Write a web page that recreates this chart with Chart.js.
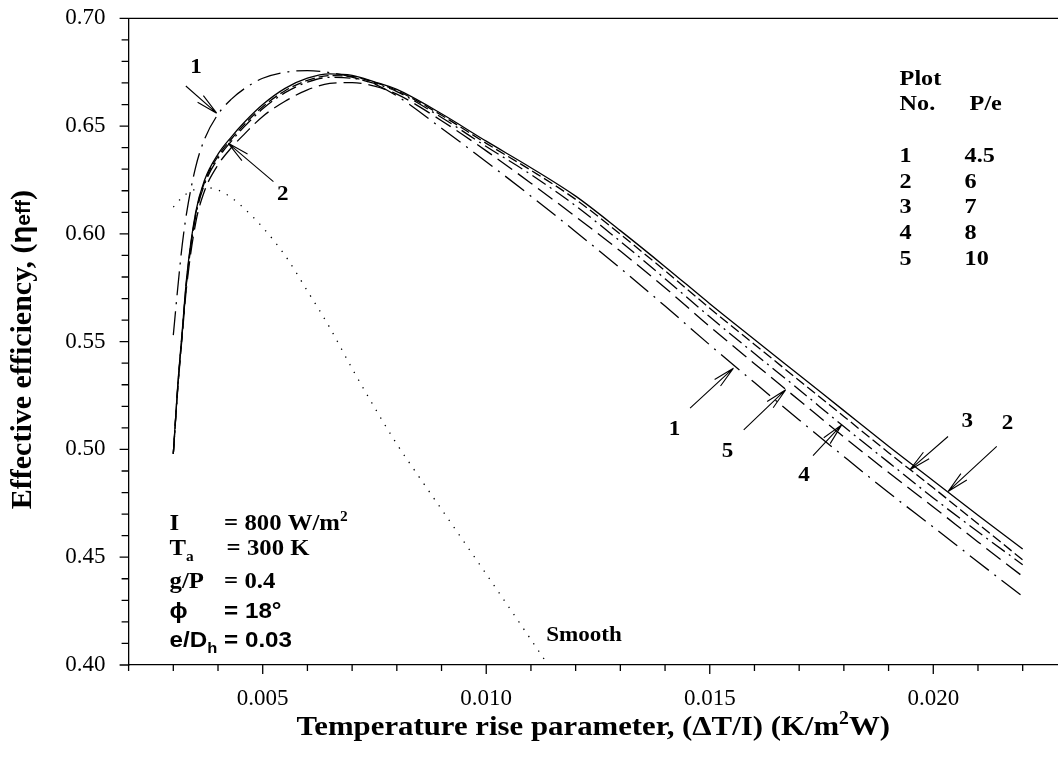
<!DOCTYPE html>
<html>
<head>
<meta charset="utf-8">
<script src="https://cdn.jsdelivr.net/npm/chart.js@4.4.1/dist/chart.umd.min.js"></script>
<style>
  html, body { margin: 0; padding: 0; background: #fff; }
  canvas { display: block; }
</style>
</head>
<body>
<canvas id="chart" width="1058" height="762"></canvas>
<script>
// Temperature rise parameter ΔT/I (K·m²/W) for the roughened-duct curves
const xRough = [0.0030, 0.0031, 0.0032, 0.0033, 0.0035, 0.0037, 0.0040, 0.0043, 0.0046, 0.0050,
                0.0055, 0.0060, 0.0065, 0.0070, 0.0075, 0.0080, 0.0090, 0.0100, 0.0110, 0.0120,
                0.0130, 0.0140, 0.0150, 0.0160, 0.0170, 0.0180, 0.0190, 0.0200, 0.0210, 0.0220];

// Effective efficiency for each relative roughness pitch P/e
const effPe45 = [0.553, 0.575, 0.595, 0.610, 0.631, 0.644, 0.6555, 0.6625, 0.6675, 0.6722,
                 0.6750, 0.6757, 0.6748, 0.6727, 0.6695, 0.6640, 0.6490, 0.6335, 0.6175, 0.6010,
                 0.5840, 0.5665, 0.5485, 0.5310, 0.5137, 0.4967, 0.4800, 0.4640, 0.4478, 0.4318];
const effPe6  = [0.498, 0.530, 0.555, 0.580, 0.610, 0.625, 0.637, 0.645, 0.652, 0.660,
                 0.6675, 0.6722, 0.6742, 0.6735, 0.6705, 0.6670, 0.6557, 0.6430, 0.6307, 0.6175,
                 0.6015, 0.5848, 0.5676, 0.5510, 0.5345, 0.5180, 0.5015, 0.4855, 0.4695, 0.4538];
const effPe7  = [0.498, 0.529, 0.554, 0.579, 0.609, 0.624, 0.636, 0.644, 0.651, 0.659,
                 0.6664, 0.6712, 0.6734, 0.6730, 0.6703, 0.6665, 0.6550, 0.6420, 0.6295, 0.6160,
                 0.5998, 0.5829, 0.5655, 0.5487, 0.5320, 0.5153, 0.4985, 0.4822, 0.4655, 0.4488];
const effPe8  = [0.498, 0.529, 0.554, 0.578, 0.608, 0.623, 0.635, 0.643, 0.650, 0.658,
                 0.6655, 0.6704, 0.6726, 0.6722, 0.6698, 0.6660, 0.6540, 0.6405, 0.6275, 0.6130,
                 0.5965, 0.5792, 0.5615, 0.5445, 0.5277, 0.5106, 0.4940, 0.4775, 0.4618, 0.4465];
const effPe10 = [0.498, 0.528, 0.553, 0.576, 0.605, 0.620, 0.632, 0.640, 0.6465, 0.6545,
                 0.6615, 0.6668, 0.6698, 0.6702, 0.6685, 0.6648, 0.6525, 0.6385, 0.6235, 0.6080,
                 0.5920, 0.5750, 0.5570, 0.5398, 0.5228, 0.5058, 0.4893, 0.4733, 0.4571, 0.4411];

// Smooth duct
const xSmooth   = [0.0030, 0.0032, 0.0034, 0.0036, 0.0038, 0.0040, 0.0043, 0.0046, 0.0050, 0.0055, 0.0060,
                   0.0065, 0.0070, 0.0075, 0.0080, 0.0085, 0.0090, 0.0095, 0.0100, 0.0105, 0.0110, 0.0115];
const effSmooth = [0.6124, 0.6170, 0.6198, 0.6212, 0.6213, 0.6203, 0.6168, 0.6115, 0.6030, 0.5900, 0.5735,
                   0.5565, 0.5375, 0.5195, 0.5025, 0.4872, 0.4722, 0.4572, 0.4422, 0.4270, 0.4118, 0.3965];

// Axis ticks
const xMajorTicks = [0.005, 0.010, 0.015, 0.020];
const yMajorTicks = [0.40, 0.45, 0.50, 0.55, 0.60, 0.65, 0.70];

// Legend table
const plotNumbers = ['1', '2', '3', '4', '5'];
const pitchRatios = ['4.5', '6', '7', '8', '10'];

// Curve labels with arrows: [ΔT/I, η] for label, arrow tail and arrow tip
const arrowNotes = [
  { n: '1', at: [0.00351, 0.6779], from: [0.00328, 0.6686], to: [0.00397, 0.6560] },
  { n: '2', at: [0.00545, 0.6190], from: [0.00524, 0.6242], to: [0.00423, 0.6420] },
  { n: '1', at: [0.01421, 0.5098], from: [0.01456, 0.5192], to: [0.01553, 0.5377] },
  { n: '5', at: [0.01540, 0.4998], from: [0.01576, 0.5091], to: [0.01670, 0.5277] },
  { n: '4', at: [0.01711, 0.4887], from: [0.01731, 0.4971], to: [0.01795, 0.5114] },
  { n: '3', at: [0.02076, 0.5137], from: [0.02033, 0.5060], to: [0.01948, 0.4906] },
  { n: '2', at: [0.02166, 0.5126], from: [0.02142, 0.5014], to: [0.02033, 0.4805] }
];

const SERIF = '"Liberation Serif", "Times New Roman", serif';
const SANS = '"Liberation Sans", Arial, "DejaVu Sans", sans-serif';
const SX = 1.1; // slight horizontal widening of the annotation lettering

const pts = (xs, ys) => xs.map((x, i) => ({ x, y: ys[i] }));

function series(label, xs, ys, dash) {
  return {
    label,
    data: pts(xs, ys),
    borderColor: '#000',
    borderWidth: 1.3,
    borderDash: dash,
    pointRadius: 0,
    fill: false,
    cubicInterpolationMode: 'monotone'
  };
}

// Draw a run of text pieces [{t, font, dy}] starting at x on baseline y
function runs(ctx, pieces, x, y, align) {
  ctx.save();
  let total = 0;
  for (const p of pieces) { ctx.font = p.font; total += ctx.measureText(p.t).width * SX; }
  let cx = align === 'center' ? x - total / 2 : (align === 'right' ? x - total : x);
  ctx.fillStyle = '#000';
  ctx.textBaseline = 'alphabetic';
  ctx.textAlign = 'left';
  for (const p of pieces) {
    ctx.font = p.font;
    const w = ctx.measureText(p.t).width;
    ctx.save();
    ctx.translate(cx, y + (p.dy || 0));
    ctx.scale(SX, 1);
    ctx.fillText(p.t, 0, 0);
    ctx.restore();
    cx += w * SX;
  }
  ctx.restore();
  return total;
}

function arrow(ctx, x1, y1, x2, y2) {
  const a = Math.atan2(y2 - y1, x2 - x1);
  const L = 22, h = 0.2;
  ctx.beginPath();
  ctx.moveTo(x1, y1); ctx.lineTo(x2, y2);
  ctx.moveTo(x2, y2); ctx.lineTo(x2 - L * Math.cos(a - h), y2 - L * Math.sin(a - h));
  ctx.moveTo(x2, y2); ctx.lineTo(x2 - L * Math.cos(a + h), y2 - L * Math.sin(a + h));
  ctx.stroke();
}

const overlay = {
  id: 'overlay',
  afterDraw(chart) {
    const { ctx, chartArea: a, scales: { x, y } } = chart;
    ctx.save();
    ctx.strokeStyle = '#000';
    ctx.lineWidth = 1.3;

    // top frame line
    ctx.beginPath();
    ctx.moveTo(a.left, a.top); ctx.lineTo(a.right, a.top);
    ctx.stroke();

    // x tick marks: every 0.001, longer at labelled values
    ctx.beginPath();
    for (let k = 2; k <= 22; k++) {
      const v = k / 1000;
      const major = xMajorTicks.some(m => Math.abs(m - v) < 1e-9);
      const px = x.getPixelForValue(v);
      ctx.moveTo(px, a.bottom); ctx.lineTo(px, a.bottom + (major ? 9 : 6));
    }
    // y tick marks: every 0.01, longer at labelled values
    for (let k = 40; k <= 70; k++) {
      const v = k / 100;
      const major = yMajorTicks.some(m => Math.abs(m - v) < 1e-9);
      const py = y.getPixelForValue(v);
      ctx.moveTo(a.left - (major ? 9 : 7), py); ctx.lineTo(a.left, py);
    }
    ctx.stroke();

    // arrows and curve numbers
    ctx.lineWidth = 1.1;
    const numFont = 'bold 21px ' + SERIF;
    for (const n of arrowNotes) {
      arrow(ctx, x.getPixelForValue(n.from[0]), y.getPixelForValue(n.from[1]),
                 x.getPixelForValue(n.to[0]), y.getPixelForValue(n.to[1]));
      runs(ctx, [{ t: n.n, font: numFont }], x.getPixelForValue(n.at[0]), y.getPixelForValue(n.at[1]) + 7, 'center');
    }

    // smooth duct label
    runs(ctx, [{ t: 'Smooth', font: 'bold 21px ' + SERIF }], x.getPixelForValue(0.01134), y.getPixelForValue(0.4113), 'left');

    // legend table
    const tf = 'bold 22px ' + SERIF;
    const c1 = a.left + 771, c2 = a.left + 836;
    runs(ctx, [{ t: 'Plot', font: tf }], c1, a.top + 67, 'left');
    runs(ctx, [{ t: 'No.', font: tf }], c1, a.top + 92, 'left');
    runs(ctx, [{ t: 'P/e', font: tf }], c2 + 5, a.top + 92, 'left');
    plotNumbers.forEach((p, i) => {
      const by = a.top + 143.4 + i * 25.8;
      runs(ctx, [{ t: p, font: tf }], c1, by, 'left');
      runs(ctx, [{ t: pitchRatios[i], font: tf }], c2, by, 'left');
    });

    // operating parameters
    const pf = 'bold 22.5px ' + SERIF, pfs = 'bold 14px ' + SERIF;
    const af = 'bold 22px ' + SANS, afs = 'bold 15px ' + SANS;
    const lx = a.left + 41, vx = a.left + 95.5;
    runs(ctx, [{ t: 'I', font: pf }], lx, 530, 'left');
    runs(ctx, [{ t: '= 800 W/m', font: pf }, { t: '2', font: pfs, dy: -9 }], vx, 530, 'left');
    runs(ctx, [{ t: 'T', font: pf }, { t: 'a', font: pfs, dy: 6 }], lx, 555, 'left');
    runs(ctx, [{ t: '= 300 K', font: pf }], vx + 2.5, 555, 'left');
    runs(ctx, [{ t: 'g/P', font: pf }], lx, 588, 'left');
    runs(ctx, [{ t: '= 0.4', font: pf }], vx, 588, 'left');
    runs(ctx, [{ t: '\u03D5', font: af }], lx, 618, 'left');
    runs(ctx, [{ t: '= 18\u00B0', font: af }], vx, 618, 'left');
    runs(ctx, [{ t: 'e/D', font: af }, { t: 'h', font: afs, dy: 6 }, { t: ' = 0.03', font: af }], lx, 646.5, 'left');

    // x axis title
    const xt = 'bold 28px ' + SERIF;
    runs(ctx, [{ t: 'Temperature rise parameter, (\u0394T/I) (K/m', font: xt },
               { t: '2', font: 'bold 18px ' + SERIF, dy: -11 },
               { t: 'W)', font: xt }], (a.left + a.right) / 2, 735, 'center');

    // y axis title (rotated)
    ctx.save();
    ctx.translate(31, (a.top + a.bottom) / 2 + 8);
    ctx.rotate(-Math.PI / 2);
    const yt = 'bold 30px ' + SERIF;
    const pieces = [
      { t: 'Effective efficiency, (', font: yt },
      { t: '\u03B7', font: 'bold 29px ' + SANS },
      { t: 'eff', font: 'bold 21px ' + SANS, dy: -1 },
      { t: ')', font: yt }
    ];
    let tw = 0;
    for (const p of pieces) { ctx.font = p.font; tw += ctx.measureText(p.t).width; }
    let cx = -tw / 2;
    ctx.fillStyle = '#000';
    for (const p of pieces) {
      ctx.font = p.font;
      ctx.fillText(p.t, cx, p.dy || 0);
      cx += ctx.measureText(p.t).width;
    }
    ctx.restore();

    ctx.restore();
  }
};

new Chart(document.getElementById('chart'), {
  type: 'line',
  data: {
    datasets: [
      series('P/e = 6', xRough, effPe6, []),
      series('P/e = 7', xRough, effPe7, [10, 4]),
      series('P/e = 8', xRough, effPe8, [16, 5, 2, 5]),
      series('P/e = 10', xRough, effPe10, [18, 7]),
      series('P/e = 4.5', xRough, effPe45, [24, 7, 2, 7]),
      series('Smooth', xSmooth, effSmooth, [1.3, 7.5])
    ]
  },
  options: {
    responsive: false,
    animation: false,
    devicePixelRatio: 1,
    events: [],
    layout: { padding: { top: 18.3, right: 0, bottom: 0, left: 0 } },
    plugins: { legend: { display: false }, tooltip: { enabled: false } },
    scales: {
      x: {
        type: 'linear',
        min: 0.002,
        max: 0.02279,
        grid: { display: false, drawTicks: false },
        border: { display: true, color: '#000', width: 1.3 },
        ticks: {
          stepSize: 0.001,
          autoSkip: false,
          maxRotation: 0,
          padding: 20,
          color: '#000',
          font: { family: SERIF, size: 23 },
          callback: v => xMajorTicks.some(m => Math.abs(m - v) < 1e-9) ? v.toFixed(3) : ''
        },
        afterFit: s => { s.height = 97; s.paddingLeft = 0; s.paddingRight = 0; }
      },
      y: {
        min: 0.40,
        max: 0.70,
        grid: { display: false, drawTicks: false },
        border: { display: true, color: '#000', width: 1.3 },
        ticks: {
          stepSize: 0.05,
          padding: 23,
          color: '#000',
          font: { family: SERIF, size: 23 },
          callback: v => v.toFixed(2)
        },
        afterFit: s => { s.width = 128.6; s.paddingTop = 0; s.paddingBottom = 0; }
      }
    }
  },
  plugins: [overlay]
});
</script>
</body>
</html>
